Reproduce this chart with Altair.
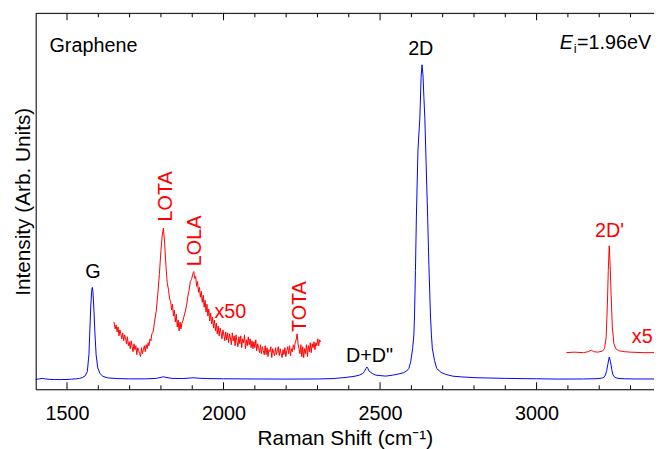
import altair as alt
import pandas as pd

FONT = "Liberation Sans"
X_MIN, X_MAX = 1400, 3375
Y_MIN, Y_MAX = 0, 380

# ---- blue spectrum (as measured) ----
blue_x = [1400, 1410, 1421, 1432, 1445, 1460, 1480, 1500, 1515, 1530, 1540, 1550, 1558, 1565,
          1570, 1573, 1576, 1579, 1581, 1583, 1586, 1589, 1593, 1598, 1605, 1615, 1630, 1660,
          1700, 1750, 1785, 1800, 1808, 1816, 1835, 1870, 1895, 1905, 1918, 1950, 2000, 2100,
          2200, 2300, 2350, 2392, 2420, 2434, 2445, 2450, 2455, 2458, 2461, 2465, 2475, 2486,
          2500, 2518, 2540, 2560, 2575, 2585, 2592, 2598, 2604, 2608, 2610, 2613, 2616, 2621,
          2624, 2627, 2631, 2634, 2637, 2640, 2643, 2647, 2652, 2656, 2661, 2664, 2667, 2674,
          2681, 2695, 2710, 2733, 2760, 2803, 2900, 3000, 3066, 3150, 3190, 3207, 3215, 3220,
          3224, 3228, 3232, 3236, 3240, 3244, 3250, 3260, 3280, 3320, 3375]
blue_y = [10.0, 10.4, 11.0, 10.4, 10.0, 9.8, 9.8, 9.9, 10.2, 10.6, 11.0, 12.0, 13.5, 18,
          35, 60, 85, 100, 103, 98, 80, 58, 35, 22, 16, 13, 11.5, 10.8,
          10.5, 10.5, 11, 12, 12.6, 12, 11, 10.8, 11.4, 11.6, 11.2, 10.8, 10.6, 10.4,
          10.3, 10.4, 10.8, 12, 13.2, 14.3, 16, 18, 21, 22.5, 21, 18.3, 16, 14.3,
          13.8, 13.3, 14.2, 15.5, 16.8, 18.5, 21, 28, 41, 55, 74, 120, 174, 241,
          258, 274, 315, 328, 318, 295, 274, 230, 174, 125, 74, 55, 41, 29,
          21, 17, 15, 13.2, 12.5, 11.7, 11, 10.6, 10.3, 10.4, 10.7, 11.2, 12, 14.5,
          19, 26, 32.5, 28, 20, 14.5, 12, 11, 10.6, 10.4, 10.4]

# ---- red x50 segment ----
red50_x = [1650, 1654, 1657, 1660, 1663, 1666, 1669, 1672, 1675, 1678, 1681, 1684, 1687, 1690,
           1693, 1696, 1699, 1702, 1705, 1708, 1711, 1714, 1717, 1720, 1723, 1726, 1729, 1732,
           1735, 1738, 1741, 1744, 1747, 1750, 1753, 1756, 1759, 1762, 1765, 1768, 1771, 1774,
           1777, 1780, 1785, 1790, 1795, 1800, 1804, 1808, 1812, 1816, 1820, 1824, 1828, 1831,
           1834, 1837, 1840, 1843, 1846, 1849, 1852, 1855, 1858, 1861, 1864, 1867, 1870, 1874,
           1878, 1882, 1886, 1890, 1894, 1898, 1902, 1905, 1908, 1911, 1914, 1917, 1920, 1923,
           1926, 1929, 1932, 1935, 1938, 1941, 1944, 1947, 1950, 1953, 1956, 1959, 1962, 1965,
           1968, 1971, 1974, 1977, 1980, 1983, 1986, 1989, 1992, 1995, 1998, 2001, 2004, 2007,
           2010, 2013, 2016, 2019, 2022, 2025, 2028, 2031, 2034, 2037, 2040, 2043, 2046, 2049,
           2052, 2055, 2058, 2061, 2064, 2067, 2070, 2073, 2076, 2079, 2082, 2085, 2088, 2091,
           2094, 2097, 2100, 2103, 2106, 2109, 2112, 2115, 2118, 2121, 2124, 2127, 2130, 2133,
           2136, 2139, 2142, 2145, 2148, 2151, 2154, 2157, 2160, 2163, 2166, 2169, 2172, 2175,
           2178, 2181, 2184, 2187, 2190, 2193, 2196, 2199, 2202, 2205, 2208, 2211, 2214, 2217,
           2220, 2223, 2226, 2229, 2232, 2235, 2238, 2241, 2244, 2247, 2250, 2253, 2256, 2259,
           2262, 2265, 2268, 2271, 2274, 2277, 2280, 2283, 2286, 2289, 2292, 2295, 2298, 2301,
           2304, 2307, 2310]
red50_y = [68, 61, 65, 58, 63, 54, 60, 56, 51, 57, 49, 55, 52, 46,
           53, 44, 48, 41, 49, 43, 38, 46, 40, 44, 35, 42, 39, 36,
           33, 42, 36, 40, 44, 38, 45, 41, 47, 44, 51, 49, 56, 57,
           62, 69, 79, 96, 116, 140, 155, 163, 147, 125, 108, 101, 91, 89,
           80, 86, 74, 80, 68, 76, 63, 70, 59, 68, 61, 67, 69, 74,
           79, 85, 94, 100, 109, 111, 117, 119, 112, 114, 104, 109, 98, 103,
           93, 99, 88, 95, 83, 90, 78, 86, 74, 81, 69, 77, 66, 73,
           62, 70, 59, 67, 56, 64, 54, 62, 57, 51, 60, 55, 49, 58,
           50, 57, 47, 56, 52, 45, 57, 49, 54, 44, 55, 48, 43, 53,
           46, 54, 42, 51, 47, 55, 41, 50, 44, 53, 45, 51, 42, 49,
           41, 48, 42, 50, 39, 46, 42, 37, 45, 36, 43, 39, 35, 44,
           35, 42, 33, 40, 38, 43, 32, 41, 37, 34, 42, 35, 39, 43,
           34, 41, 36, 32, 40, 35, 42, 33, 39, 43, 36, 44, 34, 41,
           38, 45, 40, 47, 50, 56, 46, 41, 36, 45, 33, 43, 32, 41,
           36, 45, 33, 44, 38, 47, 37, 46, 42, 48, 40, 47, 44, 51,
           44, 50, 48]

# ---- red x5 segment ----
red5_x = [3095, 3120, 3150, 3165, 3175, 3182, 3195, 3210, 3217, 3222, 3226, 3229, 3232, 3235,
          3238, 3242, 3247, 3253, 3262, 3280, 3300, 3340, 3375]
red5_y = [37, 37.5, 37, 38, 39.5, 38, 37.5, 38.5, 41, 52, 85, 120, 145, 125,
          95, 62, 46, 41, 39, 38, 37.5, 37, 37]

major_ticks = [1500, 2000, 2500, 3000]
minor_ticks = [1600, 1700, 1800, 1900, 2100, 2200, 2300, 2400, 2600, 2700, 2800, 2900,
               3100, 3200, 3300]

# annotation texts
peak_labels = ["G", "2D", "D+D\""]
peak_label_x = [1583, 2630, 2466]
peak_label_y = [112.7, 337.7, 27.7]

red_rot_labels = ["LOTA", "LOLA", "TOTA"]
red_rot_x = [1835, 1928, 2263]
red_rot_y = [195, 150, 83.5]

red_left_labels = ["x50", "x5"]
red_left_x = [1971, 3304]
red_left_y = [71.7, 47]

xscale = alt.Scale(domain=[X_MIN, X_MAX], nice=False, zero=False)
yscale = alt.Scale(domain=[Y_MIN, Y_MAX], nice=False, zero=False)

xaxis = alt.Axis(values=major_ticks, title="Raman Shift (cm\u207b\u00b9)", format="d",
                 labelFontSize=20, titleFontSize=21, labelFont=FONT, titleFont=FONT,
                 titleFontWeight="normal", ticks=False, tickSize=0, grid=False,
                 domainColor="black", domainWidth=1, labelColor="black", titleColor="black",
                 labelPadding=15, titlePadding=4, labelFlush=False)
yaxis = alt.Axis(labels=False, ticks=False, tickSize=0, grid=False,
                 title="Intensity (Arb. Units)", titleFontSize=21, titleFont=FONT,
                 titleFontWeight="normal", titleColor="black", domainColor="black",
                 domainWidth=1, titlePadding=2)


def X(f):
    return alt.X(f, type="quantitative", scale=xscale, axis=xaxis)


def Y(f):
    return alt.Y(f, type="quantitative", scale=yscale, axis=yaxis)


blue_df = pd.DataFrame({"x": blue_x, "y": blue_y})
red50_df = pd.DataFrame({"x": red50_x, "y": red50_y})
red5_df = pd.DataFrame({"x": red5_x, "y": red5_y})

blue = alt.Chart(blue_df).mark_line(color="#0000FF", strokeWidth=1).encode(x=X("x"), y=Y("y"), order="x:Q")
red50 = alt.Chart(red50_df).mark_line(color="#FF0000", strokeWidth=1).encode(x=X("x"), y=Y("y"), order="x:Q")
red5 = alt.Chart(red5_df).mark_line(color="#FF0000", strokeWidth=1).encode(x=X("x"), y=Y("y"), order="x:Q")

# ticks (inward)
tick_rows = []
for t in major_ticks:
    tick_rows.append({"x": t, "y0": 0, "y1": 7})
    tick_rows.append({"x": t, "y0": 380, "y1": 373})
for t in minor_ticks:
    tick_rows.append({"x": t, "y0": 0, "y1": 4})
    tick_rows.append({"x": t, "y0": 380, "y1": 376})
ticks = alt.Chart(pd.DataFrame(tick_rows)).mark_rule(color="black", strokeWidth=1).encode(
    x=X("x"), y=Y("y0"), y2="y1")

top_frame = alt.Chart(pd.DataFrame({"a": [0]})).mark_rule(color="black", strokeWidth=1).encode(
    x=alt.value(0), x2=alt.value(625), y=alt.value(0))

peak_df = pd.DataFrame({"t": peak_labels, "x": peak_label_x, "y": peak_label_y})
peak_txt = alt.Chart(peak_df).mark_text(font=FONT, fontSize=20, color="black", align="center",
                                        baseline="alphabetic").encode(x=X("x"), y=Y("y"), text="t")

d2p = alt.Chart(pd.DataFrame({"t": ["2D'"], "x": [3233], "y": [153.7]})).mark_text(
    font=FONT, fontSize=20, color="#FF0000", align="center", baseline="alphabetic").encode(
    x=X("x"), y=Y("y"), text="t")

rot_df = pd.DataFrame({"t": red_rot_labels, "x": red_rot_x, "y": red_rot_y})
rot_txt = alt.Chart(rot_df).mark_text(font=FONT, fontSize=20, color="#FF0000", align="center",
                                      baseline="alphabetic", angle=270).encode(
    x=X("x"), y=Y("y"), text="t")

left_df = pd.DataFrame({"t": red_left_labels, "x": red_left_x, "y": red_left_y})
left_txt = alt.Chart(left_df).mark_text(font=FONT, fontSize=20, color="#FF0000", align="left",
                                        baseline="alphabetic").encode(x=X("x"), y=Y("y"), text="t")

graphene = alt.Chart(pd.DataFrame({"t": ["Graphene"], "x": [1444], "y": [340.7]})).mark_text(
    font=FONT, fontSize=20, color="black", align="left", baseline="alphabetic").encode(
    x=X("x"), y=Y("y"), text="t")

e_txt = alt.Chart(pd.DataFrame({"t": ["E"], "x": [3074], "y": [343.7]})).mark_text(
    font=FONT, fontSize=20, fontStyle="italic", color="black", align="left",
    baseline="alphabetic").encode(x=X("x"), y=Y("y"), text="t")
i_txt = alt.Chart(pd.DataFrame({"t": ["i"], "x": [3119], "y": [339.5]})).mark_text(
    font=FONT, fontSize=13, color="black", align="left", baseline="alphabetic").encode(
    x=X("x"), y=Y("y"), text="t")
ev_txt = alt.Chart(pd.DataFrame({"t": ["=1.96eV"], "x": [3129], "y": [343.7]})).mark_text(
    font=FONT, fontSize=20, color="black", align="left", baseline="alphabetic").encode(
    x=X("x"), y=Y("y"), text="t")

chart = alt.layer(
    blue, red50, red5, ticks, top_frame, peak_txt, d2p, rot_txt, left_txt, graphene,
    e_txt, i_txt, ev_txt
).properties(
    width=625, height=380,
    autosize=alt.AutoSizeParams(type="none"),
    padding={"left": 28, "top": 3, "right": 0, "bottom": 58},
).configure_view(stroke=None).configure(background="white")

chart.save("out.html", embed_options={"renderer": "svg", "actions": False})
